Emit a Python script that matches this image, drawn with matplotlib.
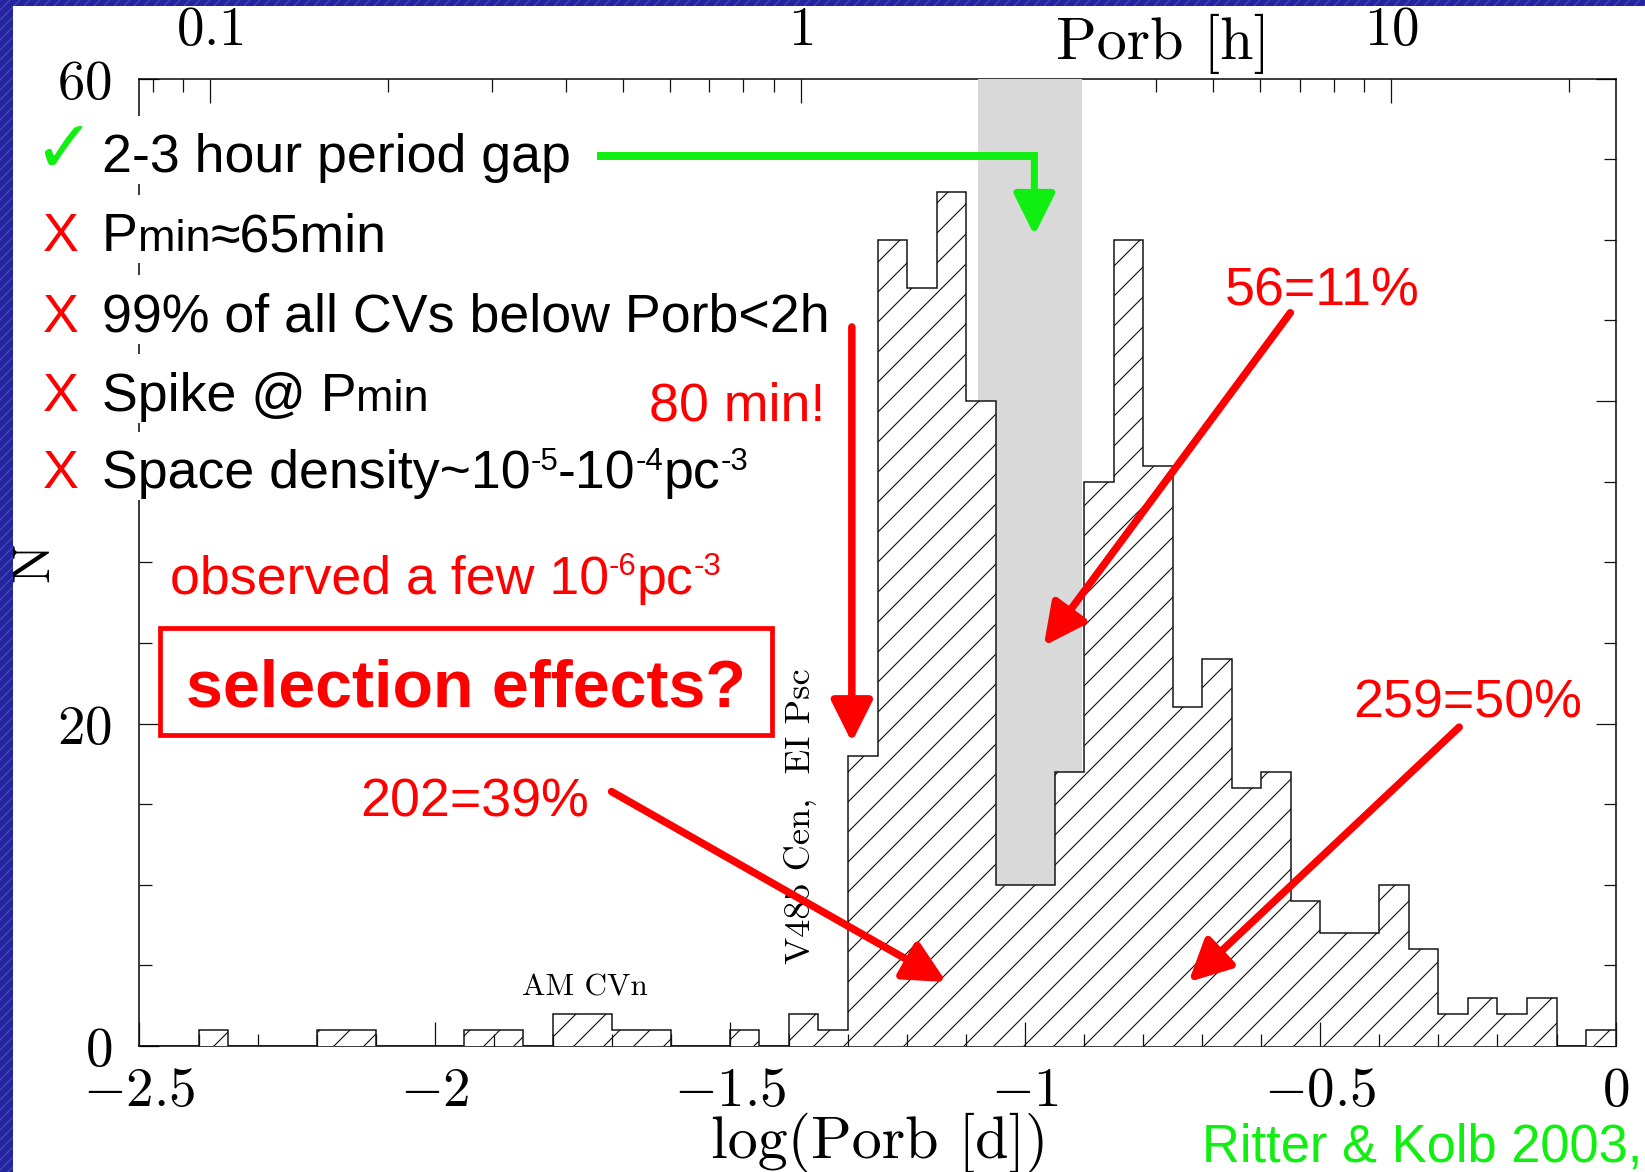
import numpy as np
import matplotlib
matplotlib.use("Agg")
import matplotlib.pyplot as plt
from matplotlib.patches import Rectangle
from matplotlib.ticker import FixedLocator, FixedFormatter, MultipleLocator, FuncFormatter, NullFormatter

# orbital period distribution of CVs (Ritter & Kolb 2003), bins of 0.05 in log(P/d)
bin_edges = np.round(np.arange(-2.5, 0.0001, 0.05), 2)
counts = [0, 0, 1, 0, 0, 0, 1, 1, 0, 0,
          0, 1, 1, 0, 2, 2, 1, 1, 0, 0,
          1, 0, 2, 1, 18, 50, 47, 53, 40, 10,
          10, 17, 35, 50, 36, 21, 24, 16, 17, 9,
          7, 7, 10, 6, 2, 3, 2, 3, 0, 1]
gap_hours = [2.0, 3.0]

bottom_ticks = [-2.5, -2, -1.5, -1, -0.5, 0]
left_ticks = [0, 20, 40, 60]
left_labels = ['$0$', '$20$', '', '$60$']
top_ticks_h = [0.1, 1, 10]
top_labels_h = ['$0.1$', '$1$', '$10$']
top_minor_h = [0.08, 0.09, 0.2, 0.3, 0.4, 0.5, 0.6, 0.7, 0.8, 0.9,
               4, 5, 6, 7, 8, 9, 20]

# slide text: (marker, marker colour, marker size, [(text, size, rise)])
bullets = [
    ('\u2713', '#11ee11', 29, [('2-3 hour period gap', 21.5, 0)]),
    ('X', 'red', 21.5, [('P', 21.5, 0), ('min', 18, 0), ('\u224865min', 21.5, 0)]),
    ('X', 'red', 21.5, [('99% of all CVs below Porb<2h', 21.5, 0)]),
    ('X', 'red', 21.5, [('Spike @ P', 21.5, 0), ('min', 18, 0)]),
    ('X', 'red', 21.5, [('Space density~10', 21.5, 0), ('-5', 12.5, 7),
                        ('-10', 21.5, 0), ('-4', 12.5, 7),
                        ('pc', 21.5, 0), ('-3', 12.5, 7)]),
]
bullet_baselines = [54.2, 49.3, 44.3, 39.4, 34.6]
observed_parts = [('observed a few 10', 21.5, 0), ('-6', 12.5, 7),
                  ('pc', 21.5, 0), ('-3', 12.5, 7)]

RED = '#ff0000'
GREEN = '#11ee11'

plt.rcParams['font.family'] = ['Liberation Sans', 'DejaVu Sans']
plt.rcParams['mathtext.fontset'] = 'cm'
plt.rcParams['hatch.linewidth'] = 0.45

fig = plt.figure(figsize=(1645 / 180, 1172 / 180), dpi=180)
fig.patch.set_facecolor('#24249e')
fig.add_artist(Rectangle((0, 0), 1, 1, transform=fig.transFigure, facecolor='#24249e',
                         edgecolor='#4a4ac0', hatch='//////', lw=0, zorder=-20))
fig.add_artist(Rectangle((0.0077, 0), 0.9923, 0.9949, transform=fig.transFigure,
                         facecolor='white', lw=0, zorder=-19))

ax = fig.add_axes([0.0848, 0.1075, 0.8973, 0.8254])
ax.set_facecolor('white')

ax.axvspan(np.log10(gap_hours[0] / 24), np.log10(gap_hours[1] / 24),
           color='#d9d9d9', lw=0, zorder=3)
ax.stairs(counts, bin_edges, fill=True, facecolor='white', edgecolor='#111111',
          hatch='//', lw=0.6, zorder=4)

ax.set_xlim(-2.5, 0)
ax.set_ylim(0, 60)
ax.xaxis.set_major_locator(FixedLocator(bottom_ticks))
ax.xaxis.set_major_formatter(FuncFormatter(lambda v, p: f'${v:g}$'))
ax.xaxis.set_minor_locator(MultipleLocator(0.1))
ax.yaxis.set_major_locator(FixedLocator(left_ticks))
ax.yaxis.set_major_formatter(FixedFormatter(left_labels))
ax.yaxis.set_minor_locator(MultipleLocator(5))
ax.tick_params(which='both', direction='in', top=False, right=True, width=0.5,
               color='#111111')
ax.tick_params(axis='x', which='major', length=9.5, pad=8, labelsize=22)
ax.tick_params(axis='x', which='minor', length=5)
ax.tick_params(axis='y', which='major', length=8, pad=11, labelsize=22)
ax.tick_params(axis='y', which='minor', length=5)
ax.xaxis.set_zorder(5)
for s in ax.spines.values():
    s.set_linewidth(0.6)

# top axis in hours
ax2 = ax.twiny()
ax2.set_xscale('log')
ax2.set_xlim(24 * 10 ** -2.5, 24)
ax2.xaxis.set_major_locator(FixedLocator(top_ticks_h))
ax2.xaxis.set_major_formatter(FixedFormatter(top_labels_h))
ax2.xaxis.set_minor_locator(FixedLocator(top_minor_h))
ax2.xaxis.set_minor_formatter(NullFormatter())
ax2.tick_params(which='both', direction='in', top=True, bottom=False, width=0.5,
                color='#111111')
ax2.tick_params(which='major', length=9.5, pad=8.5, labelsize=22)
ax2.tick_params(which='minor', length=5)
for s in ax2.spines.values():
    s.set_visible(False)

ax.text(-0.767, 1.0204, 'Porb [h]', transform=ax.get_xaxis_transform(),
        family='cmr10', size=24, ha='center', va='baseline')
ax.text(-1.2455, -0.1158, 'log(Porb [d])', transform=ax.get_xaxis_transform(),
        family='cmr10', size=24, ha='center', va='baseline')
fig.text(33 / 1568, 1 - 536 / 1117, 'N', family='cmr10', size=21, rotation=90,
         ha='center', va='center')
ax.text(-1.745, 3.12, 'AM CVn', family='cmr10', size=12.5, ha='center', va='baseline')
ax.text(-1.3823, 14.25, 'V485 Cen,  EI Psc', family='cmr10', size=14.5, rotation=90,
        ha='center', va='center', zorder=5)


def chain(x, y, parts, color, base=21.5, weight='normal'):
    """write text pieces one after another on the same baseline"""
    first = prev = None
    for s, size, rise in parts:
        if prev is None:
            t = ax.text(x, y, s, fontsize=size, color=color, va='baseline',
                        weight=weight, zorder=8)
            first = t
        else:
            adj = rise + 0.212 * (base - size)
            t = ax.annotate(s, xy=(1, 0), xycoords=(prev, first), xytext=(0, adj),
                            textcoords='offset points', fontsize=size, color=color,
                            va='bottom', ha='left', weight=weight,
                            annotation_clip=False, zorder=8)
        prev = t
    return first


def arrow(x0, y0, x1, y1, color, lw=3.0):
    ax.annotate('', xy=(x1, y1), xytext=(x0, y0), annotation_clip=False, zorder=7,
                arrowprops=dict(arrowstyle='-|>,head_length=14,head_width=7',
                                mutation_scale=1, lw=lw, color=color,
                                shrinkA=0, shrinkB=0))


for (marker, mcol, msize, parts), b in zip(bullets, bullet_baselines):
    # white strip that hides the left frame behind each line
    ax.add_patch(Rectangle((-2.56, b - 0.73), 0.11, 4.23, facecolor='white', lw=0,
                           zorder=2.6, clip_on=False))
    if marker == 'X':
        ax.text(-2.6635, b, marker, fontsize=msize, color=mcol, va='baseline', zorder=8)
    else:
        ax.text(-2.68, b, marker, fontsize=msize, color=mcol, va='baseline', zorder=8,
                family=['DejaVu Sans'])
    chain(-2.564, b, parts, 'black')

chain(-2.4485, 28.06, observed_parts, RED)

# green arrow into the period gap
ax.plot([-1.7182, -0.9844], [55.19, 55.19], color=GREEN, lw=3.2,
        solid_capstyle='projecting', clip_on=False, zorder=7)
arrow(-0.9844, 55.19, -0.9844, 50.29, GREEN, lw=2.8)

# red annotations
ax.text(-1.338, 38.78, '80 min!', fontsize=21.5, color=RED, ha='right',
        va='baseline', zorder=8)
arrow(-1.2935, 44.6, -1.2935, 18.84, RED)
ax.text(-0.661, 45.95, '56=11%', fontsize=21.5, color=RED, va='baseline', zorder=8)
arrow(-0.5508, 45.48, -0.9684, 24.82, RED)
ax.text(-0.4451, 20.36, '259=50%', fontsize=21.5, color=RED, va='baseline', zorder=8)
arrow(-0.2648, 19.78, -0.7232, 3.97, RED)
ax.text(-2.1269, 14.25, '202=39%', fontsize=21.5, color=RED, va='baseline', zorder=8)
arrow(-1.7004, 15.78, -1.1336, 3.97, RED)

ax.add_patch(Rectangle((-2.4652, 19.26), 1.0357, 6.64, facecolor='none',
                       edgecolor=RED, lw=1.9, zorder=6, clip_on=False))
ax.text(-1.9474, 21.03, 'selection effects?', fontsize=26.5, weight='bold',
        color=RED, ha='center', va='baseline', zorder=8)

fig.text(0.7305, 0.0088, 'Ritter & Kolb 2003,', fontsize=21, color=GREEN,
         va='baseline')

fig.savefig('out.png', dpi=180, facecolor=fig.get_facecolor())
